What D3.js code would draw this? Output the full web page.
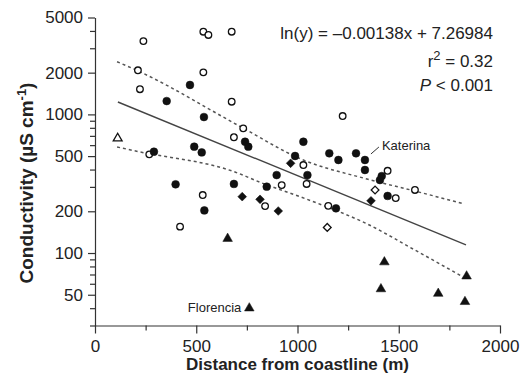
<!DOCTYPE html>
<html>
<head>
<meta charset="utf-8">
<script src="https://cdn.jsdelivr.net/npm/d3@7"></script>
<style>
  body { margin: 0; background: #fff; }
  svg text { font-family: "Liberation Sans", Arial, sans-serif; fill: #222; }
</style>
</head>
<body>
<div class="visHolder"></div>
<script>
const w = 522, h = 378;

// [distance from coastline (m), conductivity (µS cm-1)]
const openCircles = [
  [239, 3380], [535, 3950], [560, 3740], [675, 3950], [212, 2080], [535, 2010],
  [222, 1520], [675, 1235], [268, 515], [686, 684], [732, 793], [1029, 431],
  [1223, 973], [1445, 392], [1485, 249], [1580, 285], [1045, 315], [1152, 219],
  [922, 309], [840, 218], [532, 262], [420, 155]
];
const filledCircles = [
  [469, 1630], [354, 1248], [538, 957], [291, 538], [490, 585], [527, 532],
  [741, 635], [757, 585], [1029, 635], [988, 501], [1157, 524], [1202, 469],
  [1289, 524], [1333, 469], [1333, 397], [1416, 359], [1407, 336], [1445, 258],
  [1049, 365], [897, 365], [848, 301], [1190, 210], [398, 313], [540, 203],
  [686, 315]
];
const filledDiamonds = [[727, 255], [815, 244], [905, 201], [966, 444], [1363, 238]];
const openDiamonds = [[1383, 285], [1147, 153]];
const filledTriangles = [[655, 127], [762, 40], [1429, 86], [1412, 55], [1695, 51], [1835, 68], [1827, 44.5]];
const openTriangles = [[112, 672]];

// fitted line: ln(y) = slope * x + intercept
const fitSlope = -0.00138;
const fitIntercept = 7.26984;
const fitRange = [113, 1832];

// dashed bands
const upperBand = [[109, 2400], [212, 2060], [731, 797], [1012, 480], [1343, 342], [1580, 280], [1822, 226]];
const lowerBand = [[109, 582], [212, 540], [691, 384], [829, 318], [1012, 255], [1146, 215], [1333, 165], [1580, 105], [1827, 66]];

const xTicks = [0, 250, 500, 750, 1000, 1250, 1500, 1750, 2000];
const xLabels = [0, 500, 1000, 1500, 2000];
const yTicks = [30, 40, 50, 60, 70, 80, 90, 100, 200, 300, 400, 500, 600, 700, 800, 900,
  1000, 2000, 3000, 4000, 5000];
const yLabels = [50, 100, 200, 500, 1000, 2000, 5000];

const notes = [
  { name: 'Katerina', x: 1333, y: 469, side: 'right' },
  { name: 'Florencia', x: 762, y: 40, side: 'left' }
];

const svg = d3.select('.visHolder')
  .append('svg')
  .attr('width', w)
  .attr('height', h);

const xScale = d3.scaleLinear().domain([0, 2000]).range([95, 500]);
const yScale = d3.scaleLog().domain([30, 5000]).range([325.5, 17.5]);

// axes
const xAxis = d3.axisBottom(xScale)
  .tickValues(xTicks)
  .tickSize(8)
  .tickSizeOuter(0)
  .tickPadding(6)
  .tickFormat(d => xLabels.includes(d) ? d : '');

const yAxis = d3.axisLeft(yScale)
  .tickValues(yTicks)
  .tickSize(7)
  .tickSizeOuter(0)
  .tickPadding(5)
  .tickFormat(d => yLabels.includes(d) ? d : '');

const gx = svg.append('g')
  .attr('transform', `translate(0, ${yScale(30)})`)
  .call(xAxis);
gx.selectAll('.tick line').attr('y2', d => xLabels.includes(d) ? 8 : 5);

const gy = svg.append('g')
  .attr('transform', `translate(${xScale(0)}, 0)`)
  .call(yAxis);
gy.selectAll('.tick line').attr('x2', d => yLabels.includes(d) ? -7 : -5);

svg.selectAll('.domain, .tick line').attr('stroke', '#333').attr('stroke-width', 1.2);
svg.selectAll('.tick text')
  .attr('font-size', 17)
  .attr('font-family', '"Liberation Sans", Arial, sans-serif')
  .attr('fill', '#222');

// axis titles
svg.append('text')
  .attr('x', (xScale(0) + xScale(2000)) / 2)
  .attr('y', 370)
  .attr('text-anchor', 'middle')
  .attr('font-size', 17)
  .attr('font-weight', 'bold')
  .text('Distance from coastline (m)');

const yTitle = svg.append('text')
  .attr('transform', 'translate(33, 183) rotate(-90)')
  .attr('text-anchor', 'middle')
  .attr('font-size', 19)
  .attr('font-weight', 'bold');
yTitle.append('tspan').text('Conductivity (µS cm');
yTitle.append('tspan').attr('dy', -7).attr('font-size', 13).text('-1');
yTitle.append('tspan').attr('dy', 7).text(')');

// confidence bands
const bandLine = d3.line()
  .x(d => xScale(d[0]))
  .y(d => yScale(d[1]))
  .curve(d3.curveMonotoneX);

[upperBand, lowerBand].forEach(band => {
  svg.append('path')
    .attr('d', bandLine(band))
    .attr('fill', 'none')
    .attr('stroke', '#555')
    .attr('stroke-width', 1.5)
    .attr('stroke-dasharray', '3,3');
});

// regression line (straight on a log y axis)
const fitPoints = fitRange.map(x => [x, Math.exp(fitSlope * x + fitIntercept)]);
svg.append('path')
  .attr('d', d3.line().x(d => xScale(d[0])).y(d => yScale(d[1]))(fitPoints))
  .attr('fill', 'none')
  .attr('stroke', '#444')
  .attr('stroke-width', 1.4);

// markers
const drawMarks = (data, type, size, filled, rotate) => {
  svg.append('g')
    .selectAll('path')
    .data(data)
    .join('path')
    .attr('d', d3.symbol().type(type).size(size))
    .attr('transform', d => `translate(${xScale(d[0])}, ${yScale(d[1])})` + (rotate ? ' rotate(45)' : ''))
    .attr('fill', filled ? '#111' : '#fff')
    .attr('stroke', '#111')
    .attr('stroke-width', filled ? 0.5 : 1.3);
};

drawMarks(openCircles, d3.symbolCircle, 34, false);
drawMarks(filledCircles, d3.symbolCircle, 48, true);
drawMarks(openDiamonds, d3.symbolSquare, 30, false, true);
drawMarks(filledDiamonds, d3.symbolSquare, 38, true, true);
drawMarks(openTriangles, d3.symbolTriangle, 34, false);
drawMarks(filledTriangles, d3.symbolTriangle, 40, true);

// stats text
const stats = svg.append('g').attr('font-size', 17).attr('text-anchor', 'end');
stats.append('text').attr('x', 493).attr('y', 39).text('ln(y) = –0.00138x + 7.26984');
const r2 = stats.append('text').attr('x', 493).attr('y', 67);
r2.append('tspan').text('r');
r2.append('tspan').attr('dy', -7).attr('font-size', 13).text('2');
r2.append('tspan').attr('dy', 7).text(' = 0.32');
const pv = stats.append('text').attr('x', 493).attr('y', 91);
pv.append('tspan').attr('font-style', 'italic').text('P');
pv.append('tspan').text(' < 0.001');

// site labels
notes.forEach(n => {
  const px = xScale(n.x), py = yScale(n.y);
  if (n.side === 'right') {
    svg.append('line')
      .attr('x1', px + 6).attr('y1', py - 6)
      .attr('x2', px + 14).attr('y2', py - 13)
      .attr('stroke', '#333').attr('stroke-width', 1);
    svg.append('text')
      .attr('x', px + 17).attr('y', py - 10)
      .attr('font-size', 13)
      .text(n.name);
  } else {
    svg.append('text')
      .attr('x', px - 8).attr('y', py + 4)
      .attr('text-anchor', 'end')
      .attr('font-size', 13)
      .text(n.name);
  }
});
</script>
</body>
</html>
